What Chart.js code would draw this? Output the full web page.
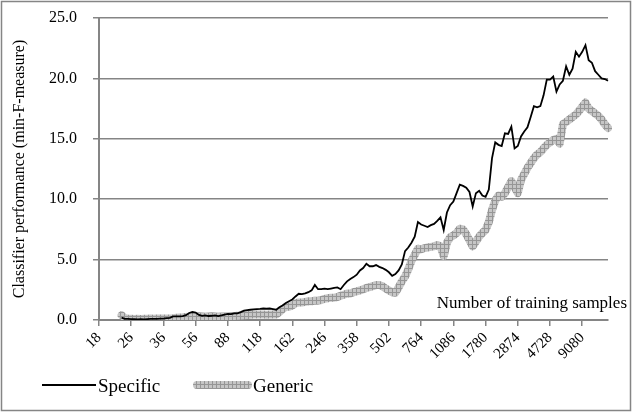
<!DOCTYPE html>
<html>
<head>
<meta charset="utf-8">
<script src="https://cdn.jsdelivr.net/npm/chart.js@4.4.1/dist/chart.umd.min.js"></script>
<style>
  html, body { margin: 0; padding: 0; background: #fff; }
  #wrap { width: 633px; height: 414px; position: relative; }
</style>
</head>
<body>
<div id="wrap"><canvas id="perfChart" width="633" height="414"></canvas></div>
<script>
// x axis: one label every 10 samples of the curve
const tickLabels = ['18', '26', '36', '56', '88', '118', '162', '246', '358', '502', '764', '1086', '1780', '2874', '4728', '9080'];
const pointsPerTick = 10;
const pointCount = 159;

// Classifier performance (min-F-measure)
const specific = [
    null, null, null, null, null, null, null, 0.2, 0.1, 0.1,
    0.08, 0.08, 0.06, 0.07, 0.06, 0.08, 0.1, 0.1, 0.1, 0.12,
    0.12, 0.15, 0.18, 0.3, 0.3, 0.3, 0.32, 0.4, 0.58, 0.66,
    0.62, 0.42, 0.35, 0.38, 0.33, 0.35, 0.38, 0.33, 0.38, 0.45,
    0.5, 0.48, 0.55, 0.55, 0.65, 0.78, 0.82, 0.85, 0.88, 0.9,
    0.92, 0.95, 0.93, 0.95, 0.9, 0.85, 1.05, 1.2, 1.4, 1.55,
    1.7, 1.95, 2.17, 2.15, 2.2, 2.3, 2.45, 2.9, 2.55, 2.55,
    2.6, 2.55, 2.6, 2.65, 2.7, 2.55, 2.9, 3.2, 3.4, 3.55,
    3.75, 4.1, 4.3, 4.65, 4.45, 4.45, 4.55, 4.4, 4.3, 4.15,
    3.95, 3.65, 3.8, 4.1, 4.6, 5.7, 6.0, 6.4, 6.9, 8.1,
    7.9, 7.8, 7.7, 7.85, 7.95, 8.2, 8.5, 7.45, 8.9, 9.5,
    9.8, 10.5, 11.2, 11.1, 10.95, 10.6, 9.4, 10.5, 10.7, 10.3,
    10.2, 10.8, 13.4, 14.7, 14.5, 14.4, 15.45, 15.4, 16.0, 14.2,
    14.4, 15.2, 15.6, 15.95, 16.8, 17.7, 17.6, 17.7, 18.6, 19.9,
    19.9, 20.15, 18.9, 19.5, 19.8, 21.0, 20.3, 20.8, 22.2, 21.8,
    22.2, 22.75, 21.5, 21.3, 20.6, 20.3, 20.0, 19.95, 19.8
];

const generic = [
    null, null, null, null, null, null, null, 0.4, 0.15, 0.1,
    0.1, 0.08, 0.1, 0.09, 0.1, 0.1, 0.12, 0.1, 0.12, 0.12,
    0.12, 0.12, 0.13, 0.15, 0.18, 0.2, 0.22, 0.25, 0.28, 0.3,
    0.3, 0.32, 0.3, 0.28, 0.3, 0.32, 0.3, 0.28, 0.3, 0.3,
    0.3, 0.32, 0.34, 0.36, 0.38, 0.4, 0.42, 0.44, 0.45, 0.45,
    0.46, 0.45, 0.44, 0.45, 0.46, 0.45, 0.65, 0.9, 1.1, 1.1,
    1.2, 1.4, 1.45, 1.45, 1.5, 1.55, 1.55, 1.6, 1.6, 1.65,
    1.75, 1.8, 1.85, 1.85, 1.9, 2.0, 2.1, 2.2, 2.2, 2.3,
    2.37, 2.45, 2.55, 2.65, 2.72, 2.8, 2.9, 2.9, 2.8, 2.6,
    2.45, 2.3, 2.25, 2.7, 3.2, 3.6, 4.2, 4.9, 5.4, 5.9,
    5.85, 5.95, 6.0, 6.05, 6.1, 6.2, 6.1, 5.3, 6.4, 6.85,
    7.0, 7.2, 7.55, 7.5, 7.1, 6.6, 6.1, 6.5, 6.9, 7.2,
    7.45, 8.1, 9.1, 9.9, 10.3, 10.2, 10.5, 11.0, 11.5, 11.0,
    10.5, 11.6, 12.1, 12.6, 13.0, 13.4, 13.7, 13.9, 14.2, 14.5,
    14.7, 14.9, 15.0, 14.6, 16.2, 16.4, 16.6, 16.8, 17.0, 17.3,
    17.65, 18.0, 17.5, 17.3, 17.1, 16.9, 16.6, 16.2, 15.9
];

const categories = [];
for (let i = 0; i < pointCount; i++) {
    categories.push(i % pointsPerTick === 0 ? tickLabels[i / pointsPerTick] : '');
}

const serif = '"Liberation Serif", "DejaVu Serif", serif';
const axisGrey = '#858585';

// crosshatched grey used by Excel for the thick "Generic" stroke
function hatchPattern() {
    const c = document.createElement('canvas');
    c.width = 4;
    c.height = 4;
    const g = c.getContext('2d');
    g.fillStyle = '#c6c6c6';
    g.fillRect(0, 0, 4, 4);
    g.fillStyle = '#969696';
    g.fillRect(0, 0, 4, 1);
    g.fillRect(0, 0, 1, 4);
    return g.createPattern(c, 'repeat');
}
const hatch = hatchPattern();

// Legend, inner x title and outer frame
const extrasPlugin = {
    id: 'extras',
    afterDraw(chart) {
        const ctx = chart.ctx;
        ctx.save();

        ctx.strokeStyle = axisGrey;
        ctx.lineWidth = 1.5;
        ctx.strokeRect(1.5, 1.5, 629, 409);

        ctx.fillStyle = '#000';
        ctx.font = '17px ' + serif;
        ctx.textAlign = 'right';
        ctx.textBaseline = 'alphabetic';
        ctx.fillText('Number of training samples', 627, 308);

        const ly = 385;
        ctx.lineCap = 'butt';
        ctx.strokeStyle = '#000';
        ctx.lineWidth = 2;
        ctx.beginPath();
        ctx.moveTo(42, ly);
        ctx.lineTo(96, ly);
        ctx.stroke();

        ctx.strokeStyle = hatch;
        ctx.lineWidth = 8;
        ctx.lineCap = 'round';
        ctx.beginPath();
        ctx.moveTo(197, ly);
        ctx.lineTo(248, ly);
        ctx.stroke();

        ctx.font = '19px ' + serif;
        ctx.textAlign = 'left';
        ctx.fillStyle = '#000';
        ctx.fillText('Specific', 98, 392);
        ctx.fillText('Generic', 253, 392);
        ctx.restore();
    }
};

new Chart(document.getElementById('perfChart'), {
    type: 'line',
    data: {
        labels: categories,
        datasets: [
            {
                label: 'Specific',
                data: specific,
                borderColor: '#000',
                borderWidth: 1.8,
                pointRadius: 0,
                tension: 0,
                fill: false
            },
            {
                label: 'Generic',
                data: generic,
                borderColor: hatch,
                borderWidth: 8,
                borderJoinStyle: 'round',
                borderCapStyle: 'round',
                pointRadius: 0,
                tension: 0,
                fill: false
            }
        ]
    },
    options: {
        responsive: false,
        animation: false,
        events: [],
        layout: {
            padding: { top: 18, right: 25, left: 0, bottom: 0 }
        },
        plugins: {
            legend: { display: false },
            tooltip: { enabled: false }
        },
        scales: {
            x: {
                afterFit: scale => {
                    scale.height = 94;
                    scale.paddingLeft = 0;
                    scale.paddingRight = 0;
                },
                grid: {
                    drawOnChartArea: false,
                    tickLength: 6,
                    lineWidth: 1.5,
                    color: c => (c.index % pointsPerTick === 0 ? axisGrey : 'rgba(0,0,0,0)')
                },
                border: { color: axisGrey, width: 2 },
                ticks: {
                    autoSkip: false,
                    minRotation: 45,
                    maxRotation: 45,
                    padding: 3,
                    color: '#000',
                    font: { family: serif, size: 15 },
                    callback: (val, idx) => categories[idx]
                }
            },
            y: {
                min: 0,
                max: 25,
                afterFit: scale => {
                    scale.width = 99;
                    scale.paddingTop = 0;
                    scale.paddingBottom = 0;
                },
                grid: {
                    color: axisGrey,
                    lineWidth: 1.5,
                    tickLength: 6
                },
                border: { color: axisGrey, width: 2 },
                ticks: {
                    stepSize: 5,
                    padding: 16,
                    color: '#000',
                    font: { family: serif, size: 16 },
                    callback: v => v.toFixed(1)
                },
                title: {
                    display: true,
                    text: 'Classifier performance (min-F-measure)',
                    color: '#000',
                    font: { family: serif, size: 16 },
                    padding: { top: 10, bottom: 0 }
                }
            }
        }
    },
    plugins: [extrasPlugin]
});
</script>
</body>
</html>
